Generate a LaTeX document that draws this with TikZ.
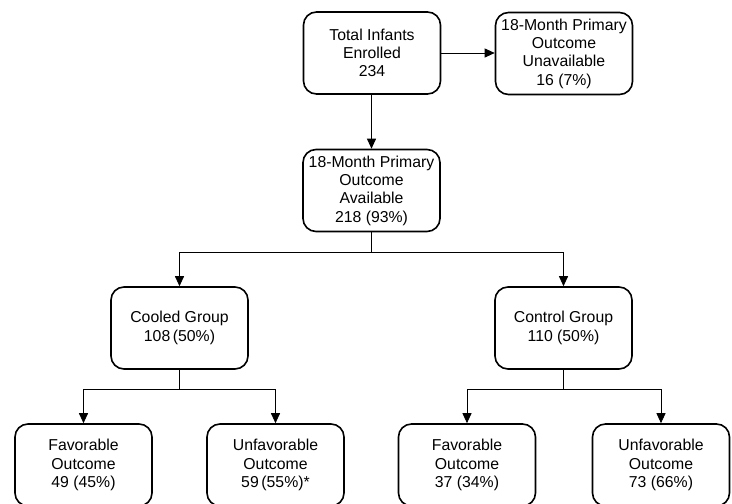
\documentclass[tikz,border=0pt]{standalone}
\usepackage{fontspec}
\setmainfont{Liberation Sans}
\usetikzlibrary{arrows.meta}
\begin{document}
\begin{tikzpicture}[x=1pt,y=-1pt,
  box/.style={draw, line width=1.6pt, rounded corners=13pt, minimum width=137pt, minimum height=82pt, inner sep=0pt, align=center, font=\fontsize{15.8}{18.3}\selectfont},
  conn/.style={line width=0.9pt},
  arr/.style={conn, -{Triangle[length=10pt,width=9pt]}}]
\clip (0,0) rectangle (732,504);
\fill[white] (0,0) rectangle (732,504);
\node[box] (total) at (372,53) {Total Infants\\Enrolled\\234};
\node[box] (unav) at (564,53.5) {18-Month Primary\\Outcome\\Unavailable\\16 (7\%)};
\node[box] (avail) at (371.5,190.5) {18-Month Primary\\Outcome\\Available\\218 (93\%)};
\node[box] (cooled) at (179.5,328) {Cooled Group\\108\,(50\%)};
\node[box] (control) at (563.5,328) {Control Group\\110 (50\%)};
\node[box] (cf) at (83.5,465) {Favorable\\Outcome\\49 (45\%)};
\node[box] (cu) at (275.5,465) {Unfavorable\\Outcome\\59\,(55\%)*};
\node[box] (kf) at (467,465) {Favorable\\Outcome\\37 (34\%)};
\node[box] (ku) at (661,465) {Unfavorable\\Outcome\\73 (66\%)};
\coordinate (s1) at (371.5,252);
\coordinate (s2) at (179.5,389);
\coordinate (s3) at (563.5,389);
\draw[arr] (total.east) -- (unav.west |- total.east);
\draw[arr] (total.south -| avail.north) -- (avail.north);
\draw[conn] (avail.south) -- (s1);
\draw[arr] (s1) -| (cooled.north);
\draw[arr] (s1) -| (control.north);
\draw[conn] (cooled.south) -- (s2);
\draw[arr] (s2) -| (cf.north);
\draw[arr] (s2) -| (cu.north);
\draw[conn] (control.south) -- (s3);
\draw[arr] (s3) -| (kf.north);
\draw[arr] (s3) -| (ku.north);
\end{tikzpicture}
\end{document}
